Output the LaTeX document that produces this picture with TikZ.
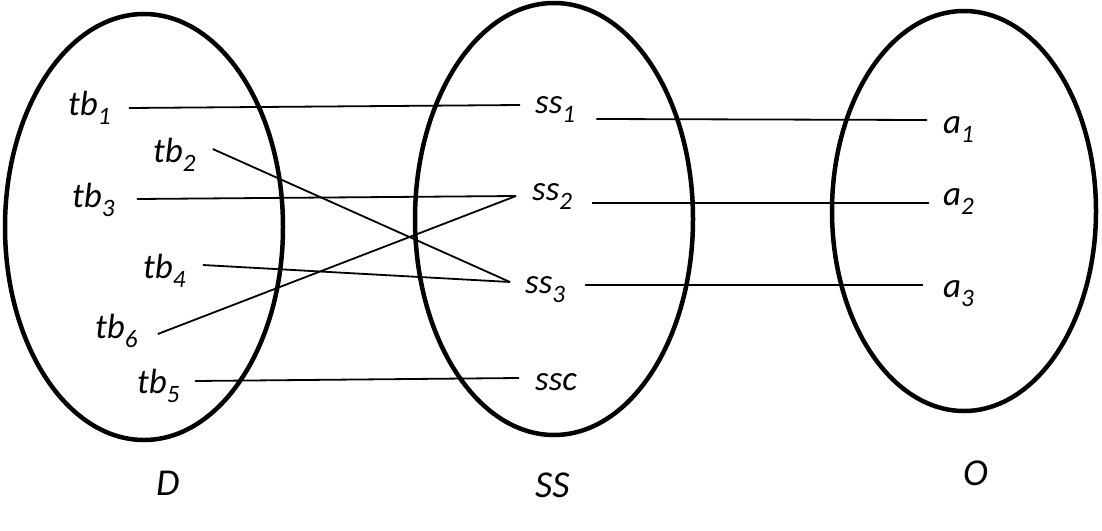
\documentclass[tikz,border=0pt]{standalone}
\usepackage{fontspec}
\setmainfont{Carlito}
\newcommand{\mylbl}[2]{#1\raisebox{-9pt}{\fontsize{25}{25}\selectfont #2}}
\tikzset{
  setshape/.style={draw=black, line width=4.5pt},
  lbl/.style={inner sep=0pt, anchor=base west, font=\itshape\fontsize{35}{35}\selectfont},
  setname/.style={inner sep=0pt, anchor=base west, font=\itshape\fontsize{38}{38}\selectfont},
  link/.style={draw=black, line width=1.8pt}
}
\begin{document}
\begin{tikzpicture}[x=1pt, y=-1pt]
\useasboundingbox (0,0) rectangle (1102,530);
% sets
\draw[setshape] (144,227) ellipse [x radius=139, y radius=213];
\draw[setshape] (554,219) ellipse [x radius=139, y radius=216];
\draw[setshape] (964,211) ellipse [x radius=132, y radius=200];
% D elements
\node[lbl] (tb1) at (68,115) {\mylbl{tb}{1}};
\node[lbl] (tb2) at (153,162) {\mylbl{tb}{2}};
\node[lbl] (tb3) at (72,207) {\mylbl{tb}{3}};
\node[lbl] (tb4) at (143,278) {\mylbl{tb}{4}};
\node[lbl] (tb6) at (95,338) {\mylbl{tb}{6}};
\node[lbl] (tb5) at (137,393) {\mylbl{tb}{5}};
% SS elements
\node[lbl] (ss1) at (535,113) {\mylbl{ss}{1}};
\node[lbl] (ss2) at (532,200) {\mylbl{ss}{2}};
\node[lbl] (ss3) at (525,293) {\mylbl{ss}{3}};
\node[lbl] (ssc) at (535,390) {ssc};
% O elements
\node[lbl] (a1) at (943,133) {\mylbl{a}{1}};
\node[lbl] (a2) at (943,205) {\mylbl{a}{2}};
\node[lbl] (a3) at (943,297) {\mylbl{a}{3}};
% set names
\node[setname] (D) at (156,495) {D};
\node[setname] (SS) at (535,497) {SS};
\node[setname] (O) at (963,485) {O};
% connectors D -> SS
\draw[link] ([shift={(18pt,7pt)}]tb1.base east) -- ([shift={(-15pt,8pt)}]ss1.base west);
\draw[link] ([shift={(17pt,13pt)}]tb2.base east) -- ([shift={(-15pt,11pt)}]ss3.base west);
\draw[link] ([shift={(22pt,8pt)}]tb3.base east) -- ([shift={(-16pt,4pt)}]ss2.base west);
\draw[link] ([shift={(17pt,13pt)}]tb4.base east) -- ([shift={(-15pt,11pt)}]ss3.base west);
\draw[link] ([shift={(20pt,4pt)}]tb6.base east) -- ([shift={(-16pt,4pt)}]ss2.base west);
\draw[link] ([shift={(15pt,12pt)}]tb5.base east) -- ([shift={(-16pt,12pt)}]ssc.base west);
% connectors SS -> O
\draw[link] ([shift={(21pt,-6pt)}]ss1.base east) -- ([shift={(-16pt,13pt)}]a1.base west);
\draw[link] ([shift={(20pt,-3pt)}]ss2.base east) -- ([shift={(-14pt,2pt)}]a2.base west);
\draw[link] ([shift={(20pt,8pt)}]ss3.base east) -- ([shift={(-20pt,12pt)}]a3.base west);
\end{tikzpicture}
\end{document}
